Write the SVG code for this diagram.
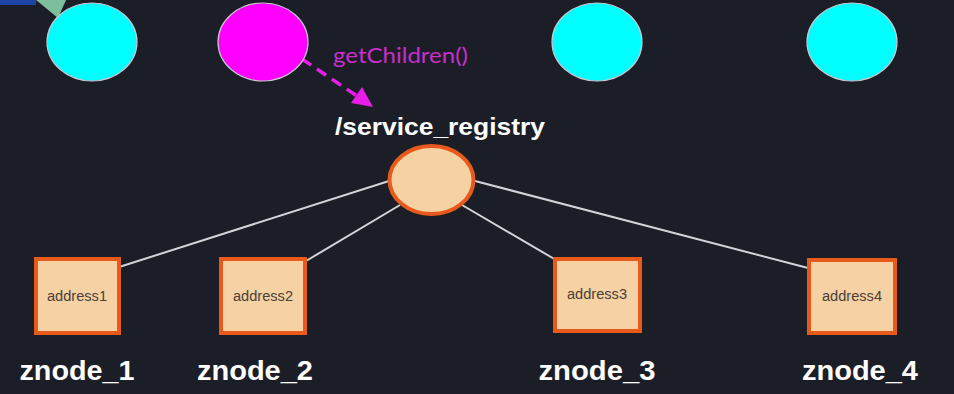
<svg xmlns="http://www.w3.org/2000/svg" width="954" height="394" viewBox="0 0 954 394">
<defs>
<style>
.bg{fill:#1c1e27}
.client{stroke:#c8c8d0;stroke-width:1.2}
.cyan{fill:#00ffff}
.mag{fill:#ff00ff}
.reg{fill:#f5d1a3;stroke:#e85a1c;stroke-width:4}
.box{fill:#f5d1a3;stroke:#e85a1c;stroke-width:4}
.edge{stroke:#d4d4d8;stroke-width:2;fill:none}
.call{stroke:#e81ee8;stroke-width:3.5;stroke-dasharray:11 7;fill:none}
.addr{font-family:"Liberation Sans",Arial,sans-serif;font-size:14px;fill:#4a4038;text-anchor:middle}
.zn{font-family:"Liberation Sans",Arial,sans-serif;font-weight:bold;font-size:27px;fill:#ffffff;text-anchor:middle}
.path{font-family:"Liberation Sans",Arial,sans-serif;font-weight:bold;font-size:24px;fill:#ffffff}
.fn{font-family:Lato,"Liberation Sans",sans-serif;font-size:21px;fill:#c82ecb}
</style>
</defs>
<rect class="bg" x="0" y="0" width="954" height="394"/>
<rect x="0" y="0" width="36" height="5" fill="#1e44a8"/>
<polygon points="36,0 66,0 58,18" fill="#7dbf9c"/>

<g id="connectors">
<line class="edge" x1="389" y1="181" x2="116" y2="268"/>
<line class="edge" x1="400" y1="205" x2="306" y2="261"/>
<line class="edge" x1="462" y1="205" x2="556" y2="260"/>
<line class="edge" x1="475" y1="181" x2="808" y2="268"/>
<path class="call" d="M302,59 L360,98"/>
<polygon points="351,103 362,87 373,107" fill="#e81ee8"/>
</g>

<g id="client1"><ellipse class="client cyan" cx="92" cy="42" rx="45" ry="39"/></g>
<g id="client2"><ellipse class="client mag" cx="263" cy="42" rx="45" ry="39"/></g>
<g id="client3"><ellipse class="client cyan" cx="597" cy="42" rx="45" ry="39"/></g>
<g id="client4"><ellipse class="client cyan" cx="852" cy="42" rx="45" ry="39"/></g>

<g id="call-label"><text class="fn" x="333" y="63" textLength="135" lengthAdjust="spacingAndGlyphs">getChildren()</text></g>

<g id="service_registry">
<text class="path" x="335" y="135" textLength="210" lengthAdjust="spacingAndGlyphs">/service_registry</text>
<ellipse class="reg" cx="431.5" cy="180" rx="42" ry="34"/>
</g>

<g id="znode_1">
<rect class="box" x="36" y="259" width="83" height="74"/>
<text class="addr" x="77" y="301" textLength="60" lengthAdjust="spacingAndGlyphs">address1</text>
<text class="zn" x="77" y="380" textLength="115" lengthAdjust="spacingAndGlyphs">znode_1</text>
</g>
<g id="znode_2">
<rect class="box" x="221" y="259" width="84" height="74"/>
<text class="addr" x="263" y="301" textLength="60" lengthAdjust="spacingAndGlyphs">address2</text>
<text class="zn" x="255" y="380" textLength="116" lengthAdjust="spacingAndGlyphs">znode_2</text>
</g>
<g id="znode_3">
<rect class="box" x="555" y="259" width="85" height="72"/>
<text class="addr" x="597" y="299" textLength="60" lengthAdjust="spacingAndGlyphs">address3</text>
<text class="zn" x="597" y="380" textLength="117" lengthAdjust="spacingAndGlyphs">znode_3</text>
</g>
<g id="znode_4">
<rect class="box" x="809" y="260" width="86" height="73"/>
<text class="addr" x="852" y="301" textLength="60" lengthAdjust="spacingAndGlyphs">address4</text>
<text class="zn" x="860" y="380" textLength="116" lengthAdjust="spacingAndGlyphs">znode_4</text>
</g>
</svg>
